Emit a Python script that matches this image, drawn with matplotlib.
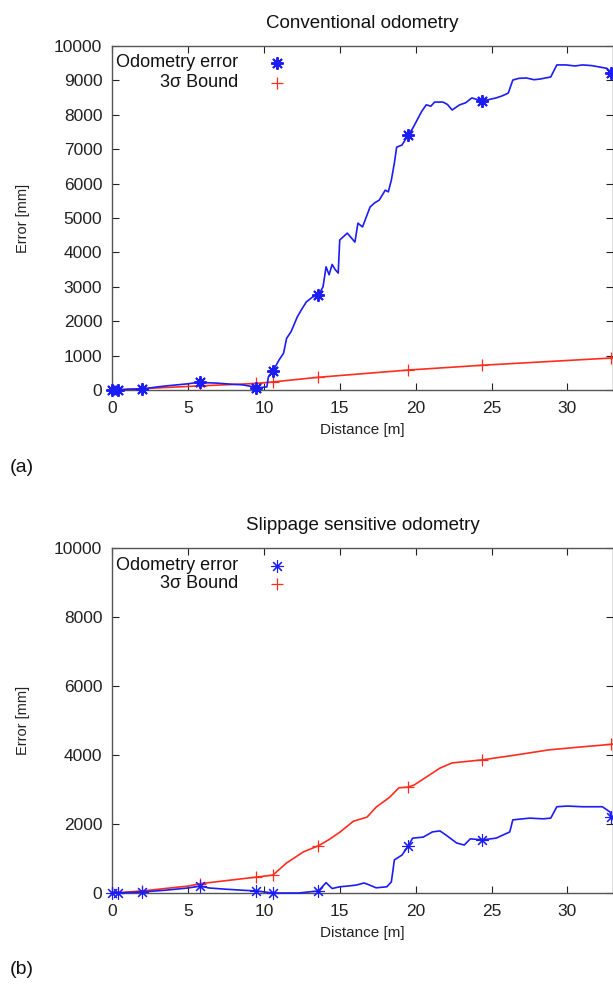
import numpy as np
import matplotlib
matplotlib.use("Agg")
import matplotlib.pyplot as plt

plt.rcParams['font.family'] = ['Liberation Sans', 'DejaVu Sans']

# ---------------- data ----------------
titles = ["Conventional odometry", "Slippage sensitive odometry"]
panel_tags = ["(a)", "(b)"]
x_label = "Distance [m]"
y_label = "Error [mm]"
legend_labels = ["Odometry error", "3\u03c3 Bound"]
marker_x = [0.0, 0.4, 2.0, 5.8, 9.5, 10.6, 13.6, 19.5, 24.4, 32.9]

# (a) conventional: odometry error
a_err_x = [0.0, 0.4, 1.0, 2.0, 3.0, 3.6, 4.3, 5.0, 5.8, 6.3, 6.9, 7.8, 8.6, 9.1, 9.5,
           10.2, 10.3, 10.6, 11.0, 11.3, 11.5, 11.8, 12.2, 12.5, 12.8, 13.2, 13.6,
           13.9, 14.1, 14.3, 14.5, 14.7, 14.9, 15.0, 15.5, 16.0, 16.2, 16.5, 17.0,
           17.3, 17.6, 18.0, 18.2, 18.4, 18.6, 18.75, 19.1, 19.5, 19.8, 20.1, 20.4,
           20.7, 21.0, 21.25, 21.8, 22.1, 22.4, 22.9, 23.3, 23.7, 24.4, 24.9, 25.3,
           25.7, 26.1, 26.4, 26.8, 27.3, 27.8, 28.2, 28.9, 29.3, 29.9, 30.5, 31.0,
           31.6, 32.1, 32.6, 32.9, 33.0]
a_err_y = [0, 0, 20, 30, 90, 120, 150, 180, 230, 210, 200, 170, 150, 110, 60,
           90, 380, 550, 870, 1070, 1500, 1700, 2120, 2350, 2560, 2700, 2760,
           3000, 3580, 3350, 3650, 3500, 3400, 4360, 4560, 4300, 4850, 4740, 5320,
           5440, 5520, 5810, 5760, 6100, 6600, 7060, 7120, 7410, 7600, 7850, 8100,
           8290, 8250, 8370, 8370, 8300, 8140, 8290, 8350, 8490, 8400, 8450, 8490,
           8550, 8630, 9010, 9060, 9070, 9020, 9040, 9100, 9450, 9450, 9420, 9450,
           9430, 9390, 9350, 9210, 9150]
# (a) conventional: 3 sigma bound
a_bnd_x = [0.0, 0.4, 2.0, 5.8, 9.5, 10.6, 13.6, 19.5, 24.4, 32.9, 33.0]
a_bnd_y = [0, 10, 40, 120, 190, 235, 370, 580, 720, 930, 935]

# (b) slippage sensitive: odometry error
b_err_x = [0.0, 0.4, 2.0, 3.5, 5.0, 5.8, 6.4, 7.5, 8.6, 9.5, 10.6, 12.3, 13.6,
           14.1, 14.5, 15.0, 15.5, 16.1, 16.6, 16.8, 17.4, 18.1, 18.4, 18.6, 19.1,
           19.5, 19.8, 20.5, 21.1, 21.6, 22.0, 22.7, 23.2, 23.6, 24.4, 25.3, 26.2,
           26.4, 27.5, 28.4, 28.9, 29.3, 30.0, 31.0, 32.3, 32.8, 32.9, 33.0]
b_err_y = [0, 0, 30, 80, 145, 200, 145, 110, 80, 60, 0, 0, 60,
           300, 130, 180, 200, 230, 290, 260, 150, 180, 320, 960, 1100,
           1350, 1590, 1620, 1770, 1800, 1680, 1450, 1390, 1570, 1540, 1590, 1770,
           2120, 2170, 2150, 2170, 2500, 2520, 2500, 2500, 2350, 2200, 2150]
# (b) slippage sensitive: 3 sigma bound
b_bnd_x = [0.0, 0.4, 2.0, 5.0, 5.8, 9.5, 10.6, 11.5, 12.6, 13.6, 14.3, 15.0, 15.9,
           16.8, 17.4, 18.3, 18.9, 19.5, 19.9, 20.7, 21.6, 22.4, 24.4, 26.6, 28.8,
           30.8, 32.9, 33.0]
b_bnd_y = [0, 10, 60, 200, 270, 460, 520, 870, 1190, 1370, 1550, 1760, 2080,
           2200, 2490, 2780, 3050, 3070, 3130, 3360, 3620, 3770, 3860, 4000, 4150,
           4230, 4310, 4320]

x_ticks = [0, 5, 10, 15, 20, 25, 30]
a_y_ticks = list(range(0, 10001, 1000))
b_y_ticks = list(range(0, 10001, 2000))

BLUE = '#1c1cf5'
RED = '#ff2d1e'
ASTER = (8, 2, 0)

W, H = 613, 985
fig = plt.figure(figsize=(W / 100, H / 100), dpi=100)

def px_axes(left, top, right, bottom):
    return fig.add_axes([left / W, 1 - bottom / H, (right - left) / W, (bottom - top) / H])

def marker_idx(xs):
    xs = np.asarray(xs)
    return [int(np.argmin(np.abs(xs - m))) for m in marker_x]

panels = [
    dict(ax=px_axes(112, 46, 613, 390), ex=a_err_x, ey=a_err_y, bx=a_bnd_x, by=a_bnd_y,
         yt=a_y_ticks, title=titles[0], tag=panel_tags[0], mew=1.4, ms=9,
         leg_y=(0.951, 0.893), tag_y=468),
    dict(ax=px_axes(112, 548, 613, 893), ex=b_err_x, ey=b_err_y, bx=b_bnd_x, by=b_bnd_y,
         yt=b_y_ticks, title=titles[1], tag=panel_tags[1], mew=0.8, ms=9,
         leg_y=(0.948, 0.896), tag_y=970),
]

for p in panels:
    ax = p['ax']
    ax.plot(p['bx'], p['by'], color=RED, lw=1.2, marker='+', ms=8, mew=0.9,
            markevery=marker_idx(p['bx']), clip_on=True, zorder=3)
    ax.plot(p['ex'], p['ey'], color=BLUE, lw=1.2, marker=ASTER, ms=p['ms'], mew=p['mew'],
            markevery=marker_idx(p['ex']), clip_on=False, zorder=4)
    ax.set_xlim(0, 33)
    ax.set_ylim(0, 10000)
    ax.set_xticks(x_ticks)
    ax.set_yticks(p['yt'])
    ax.tick_params(direction='in', length=5, width=0.8, top=True, right=True,
                   labelsize=12.5, colors='#222222')
    ax.tick_params(axis='y', pad=7)
    ax.tick_params(axis='x', pad=8)
    for s in ax.spines.values():
        s.set_color('#555555')
        s.set_linewidth(1.0)
    ax.set_title(p['title'], fontsize=13.5, pad=13, color='#111111')
    ax.set_xlabel(x_label, fontsize=11, labelpad=5, color='#222222')
    ax.set_ylabel(y_label, fontsize=10.5, labelpad=17, color='#222222')
    # gnuplot-style key: right-aligned text, point sample to the right
    ly1, ly2 = p['leg_y']
    ax.text(0.2515, ly1, legend_labels[0], transform=ax.transAxes, ha='right', va='center',
            fontsize=13, color='#111111')
    ax.text(0.2515, ly2, legend_labels[1], transform=ax.transAxes, ha='right', va='center',
            fontsize=13, color='#111111')
    ax.plot([0.329], [ly1], transform=ax.transAxes, marker=ASTER, ms=p['ms'],
            mew=p['mew'], color=BLUE, ls='none')
    ax.plot([0.329], [ly2], transform=ax.transAxes, marker='+', ms=8, mew=0.9,
            color=RED, ls='none')
    fig.text(10 / W, 1 - p['tag_y'] / H, p['tag'], fontsize=14, va='center', ha='left',
             color='#111111')

fig.savefig('out.png', dpi=100)
